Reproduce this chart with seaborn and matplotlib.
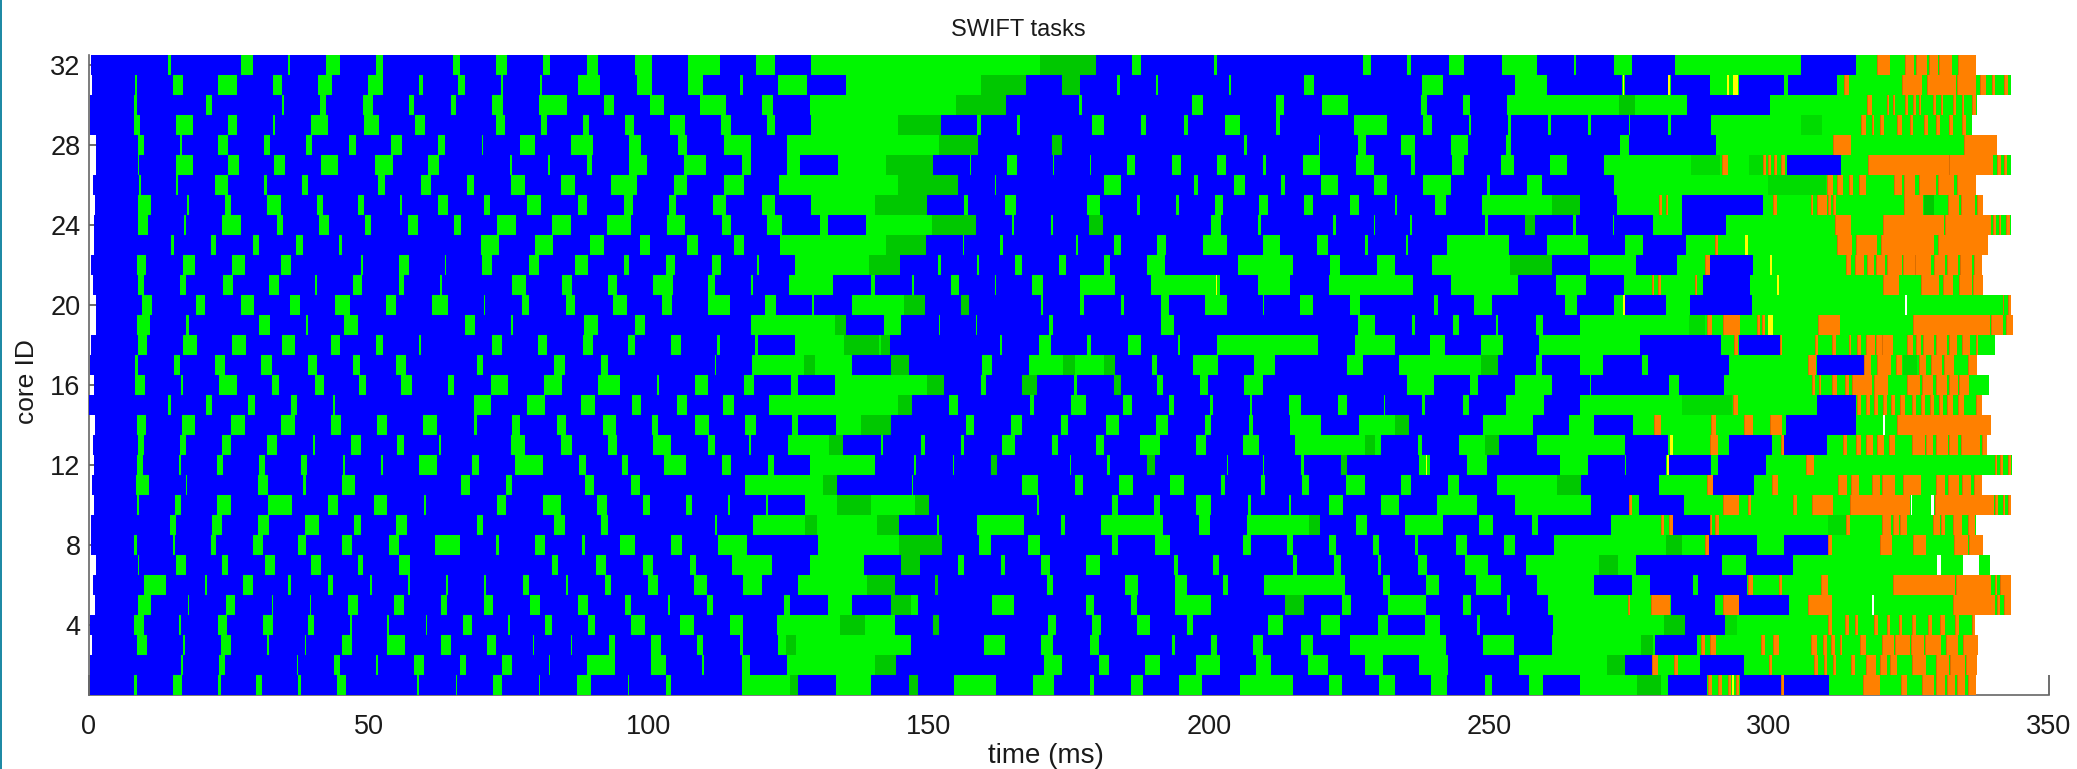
"""
plot.py
SWIFT tasks per core (Gantt-style timeline) redrawn as a seaborn heatmap of task states.
Span values are (start_ms, end_ms), read off the picture by eye.
"""

import matplotlib
matplotlib.use("Agg")
import matplotlib.pyplot as plt
import numpy as np
import seaborn as sns
from matplotlib.colors import ListedColormap
from matplotlib.patches import Rectangle

x_ticks = [0, 50, 100, 150, 200, 250, 300, 350]
y_ticks = [4, 8, 12, 16, 20, 24, 28, 32]
n_cores = 32
t_max = 350

# first blue task of every core, core 1 first
core_starts = [0.1, 0.1, 0.6, 0.2, 1.1, 0.7, 1.3, 0.4, 0.4, 0.9,
               0.5, 0.9, 0.7, 1.1, 0.0, 0.9, 0.2, 0.4, 1.3, 1.3,
               0.7, 0.4, 0.9, 0.9, 1.1, 0.7, 1.3, 1.3, 0.1, 0.1, 0.5, 0.4]

# green = everything that is not the blue background, up to the end of the core
core_01_green = [(8.1, 8.5), (15.0, 16.6), (23.1, 23.5), (29.9, 30.9), (37.4, 37.8), (44.2, 45.9), (58.6, 58.9), (65.5, 65.8), (72.1, 73.8), (80.4, 80.6), (87.2, 89.7), (96.2, 96.5), (103.0, 104.0), (116.6, 126.6), (133.4, 139.7), (146.4, 148.0), (154.5, 162.0), (168.5, 172.3), (178.8, 179.5), (186.1, 188.2), (194.7, 198.8), (205.5, 215.0), (221.4, 223.8), (230.4, 233.2), (239.7, 242.5), (249.2, 250.5), (257.2, 259.6), (266.2, 281.9), (289.0, 294.8), (302.2, 302.6), (310.8, 337.0)]
core_02_green = [(16.5, 16.8), (23.2, 24.3), (37.1, 37.3), (43.7, 44.8), (51.3, 51.6), (58.0, 59.9), (66.3, 67.3), (73.7, 75.6), (82.1, 82.4), (88.9, 94.0), (100.4, 103.1), (109.5, 109.9), (116.6, 118.1), (124.6, 144.1), (170.5, 173.7), (180.3, 182.1), (188.6, 191.2), (197.7, 201.9), (208.4, 211.1), (217.7, 221.3), (227.8, 231.0), (237.5, 242.6), (255.4, 274.3), (279.1, 287.7), (295.6, 337.2)]
core_03_green = [(8.6, 10.3), (16.8, 17.2), (23.6, 25.3), (31.8, 32.1), (38.5, 38.8), (45.2, 46.9), (53.3, 56.5), (62.9, 64.7), (71.1, 72.7), (79.2, 79.5), (86.0, 86.3), (92.9, 93.9), (100.4, 102.1), (108.6, 109.7), (116.2, 116.7), (123.1, 146.7), (159.9, 163.6), (170.0, 172.2), (178.7, 180.4), (193.4, 193.9), (200.4, 201.4), (207.8, 209.7), (216.4, 218.5), (225.2, 242.4), (249.0, 254.5), (261.3, 279.6), (287.1, 337.4)]
core_04_green = [(8.1, 9.8), (16.1, 16.5), (23.0, 24.6), (31.1, 32.8), (39.1, 40.2), (46.6, 46.9), (53.3, 53.6), (60.1, 60.4), (66.8, 68.4), (74.8, 75.1), (81.5, 82.7), (89.1, 90.3), (96.7, 99.3), (105.6, 108.1), (114.5, 116.7), (122.9, 143.9), (150.7, 151.8), (171.3, 172.6), (179.1, 180.7), (187.1, 189.4), (196.0, 197.2), (210.5, 213.3), (220.0, 223.4), (230.1, 232.0), (238.6, 241.2), (247.9, 248.4), (261.5, 285.0), (292.1, 336.8)]
core_05_green = [(8.8, 11.0), (17.6, 17.9), (24.4, 26.1), (32.6, 32.9), (39.4, 39.7), (46.3, 48.0), (54.5, 56.3), (62.9, 63.9), (70.5, 72.2), (78.7, 80.6), (87.3, 89.1), (95.8, 96.7), (103.4, 103.7), (110.4, 111.4), (124.1, 125.2), (131.9, 136.3), (143.2, 148.0), (161.2, 165.2), (178.1, 179.5), (186.0, 187.1), (194.0, 200.3), (213.5, 217.0), (223.7, 225.4), (231.9, 238.7), (245.3, 246.8), (253.3, 253.8), (260.5, 282.5), (290.4, 294.7), (303.5, 343.3)]
core_06_green = [(9.8, 13.8), (20.7, 21.1), (27.5, 29.2), (35.6, 36.0), (42.6, 43.6), (50.1, 50.5), (57.0, 57.4), (63.8, 64.1), (70.5, 70.9), (77.5, 78.6), (85.1, 85.5), (92.1, 93.3), (99.8, 101.6), (108.1, 110.3), (116.7, 120.2), (126.6, 144.0), (151.0, 151.6), (171.1, 172.1), (185.0, 187.4), (194.0, 196.0), (202.5, 203.4), (209.8, 224.3), (231.0, 232.4), (238.8, 241.1), (247.7, 252.1), (258.6, 268.8), (275.6, 278.7), (286.5, 287.4), (296.1, 343.3)]
core_07_green = [(8.7, 9.0), (15.5, 17.3), (23.7, 24.9), (31.4, 33.3), (39.7, 41.4), (48.0, 49.0), (55.4, 57.4), (82.7, 83.8), (90.6, 92.4), (99.0, 100.7), (107.4, 108.4), (114.8, 122.0), (128.7, 138.4), (145.0, 148.4), (155.1, 156.3), (162.9, 163.6), (170.0, 171.6), (178.1, 180.6), (193.7, 194.4), (200.7, 201.7), (215.0, 215.7), (222.4, 223.6), (230.2, 230.7), (237.3, 238.9), (245.7, 249.9), (256.6, 276.2), (291.6, 295.9), (304.3, 339.4)]
core_08_green = [(8.0, 8.5), (15.0, 15.3), (21.7, 22.7), (29.2, 31.0), (37.4, 38.8), (45.2, 47.0), (53.5, 55.3), (61.8, 66.3), (72.7, 73.2), (79.6, 81.5), (88.1, 88.5), (94.9, 97.5), (104.0, 105.9), (112.4, 117.5), (130.2, 152.3), (158.9, 161.1), (167.6, 169.9), (182.7, 183.7), (190.3, 193.1), (206.1, 207.5), (213.9, 215.0), (221.4, 222.6), (229.2, 230.4), (236.8, 237.4), (244.1, 246.1), (252.7, 254.6), (261.6, 289.3), (297.8, 302.6), (310.6, 338.3)]
core_09_green = [(14.5, 15.5), (22.0, 23.7), (30.2, 32.1), (38.5, 41.1), (47.4, 48.5), (54.9, 56.7), (69.3, 70.4), (83.1, 85.0), (91.4, 92.7), (111.8, 112.1), (118.5, 144.7), (151.4, 151.8), (158.5, 167.0), (173.6, 174.3), (180.8, 191.7), (198.2, 200.1), (206.7, 219.9), (226.3, 228.3), (235.0, 241.8), (248.3, 250.7), (257.6, 258.8), (271.7, 282.8), (289.4, 336.9)]
core_10_green = [(8.6, 8.9), (15.3, 16.4), (22.8, 25.4), (31.9, 36.2), (42.7, 44.4), (50.9, 53.3), (59.8, 60.1), (72.8, 74.5), (81.0, 84.3), (90.8, 92.5), (99.0, 100.1), (106.6, 107.7), (114.1, 114.5), (120.9, 121.2), (127.8, 150.0), (169.3, 169.6), (182.6, 183.7), (190.1, 191.2), (197.6, 200.4), (207.0, 207.5), (214.2, 214.7), (221.4, 224.0), (230.7, 233.9), (240.8, 247.8), (254.6, 268.2), (275.0, 276.7), (284.8, 343.3)]
core_11_green = [(8.4, 10.8), (17.3, 17.5), (30.1, 32.0), (38.3, 38.7), (45.1, 47.5), (66.4, 68.1), (74.5, 75.6), (88.5, 90.2), (96.8, 98.4), (117.1, 133.6), (146.9, 147.2), (166.6, 169.4), (176.0, 177.5), (183.9, 186.5), (193.1, 195.5), (202.2, 202.9), (209.3, 210.0), (216.6, 217.8), (224.5, 227.9), (234.3, 236.0), (242.7, 244.7), (251.4, 266.5), (280.3, 290.0), (297.4, 338.1)]
core_12_green = [(8.6, 9.7), (16.0, 16.4), (22.9, 24.0), (30.4, 31.5), (37.9, 38.9), (45.3, 45.7), (52.1, 52.5), (58.9, 62.1), (68.4, 69.6), (76.0, 81.0), (87.5, 88.7), (95.1, 96.3), (102.7, 106.6), (113.0, 114.7), (121.2, 122.3), (128.8, 140.3), (147.3, 147.7), (154.2, 154.4), (161.0, 162.1), (175.2, 175.4), (181.8, 182.4), (188.9, 190.3), (203.3, 203.4), (209.7, 209.9), (216.5, 217.0), (223.5, 224.7), (237.5, 239.5), (246.0, 249.6), (262.7, 267.6), (274.2, 274.5), (281.6, 282.2), (289.7, 290.9), (299.5, 343.4)]
core_13_green = [(8.7, 9.8), (16.2, 17.3), (23.7, 25.4), (31.8, 33.6), (40.0, 40.4), (46.8, 48.5), (55.0, 56.2), (62.5, 62.9), (75.4, 77.9), (84.3, 86.2), (92.6, 94.3), (100.7, 104.0), (110.6, 111.8), (117.9, 118.3), (124.8, 134.7), (141.4, 141.7), (148.5, 149.3), (155.8, 156.3), (163.1, 165.4), (171.9, 173.1), (179.8, 181.3), (187.7, 191.2), (197.7, 199.4), (206.0, 208.9), (215.4, 230.8), (237.3, 238.1), (244.6, 251.8), (258.5, 274.3), (281.9, 292.9), (300.5, 302.6), (310.4, 339.0)]
core_14_green = [(8.5, 10.2), (16.6, 19.0), (25.4, 27.9), (34.3, 36.7), (43.2, 45.0), (51.5, 53.2), (59.7, 62.1), (68.7, 69.2), (75.6, 77.0), (83.5, 85.2), (91.7, 94.1), (100.6, 101.6), (108.3, 110.8), (117.2, 119.1), (125.5, 126.6), (133.4, 143.2), (156.6, 158.1), (164.7, 166.6), (173.5, 174.9), (181.6, 183.9), (190.5, 192.6), (199.2, 200.4), (207.1, 207.8), (214.5, 220.0), (226.7, 235.7), (249.0, 257.9), (264.3, 268.8), (275.8, 303.1), (315.6, 339.6)]
core_15_green = [(14.1, 14.6), (20.9, 21.9), (28.4, 29.6), (36.1, 37.2), (43.6, 44.0), (68.7, 71.8), (78.3, 81.4), (87.8, 90.3), (96.9, 98.5), (105.0, 106.8), (113.3, 115.2), (121.5, 146.9), (153.6, 155.1), (168.1, 168.8), (175.4, 178.1), (184.6, 186.2), (192.9, 193.8), (200.2, 200.8), (207.4, 207.6), (214.2, 216.4), (223.1, 224.7), (231.2, 231.5), (238.0, 238.5), (245.3, 246.4), (253.1, 259.8), (266.3, 308.6), (315.6, 338.0)]
core_16_green = [(8.3, 10.0), (16.4, 16.8), (23.2, 26.4), (32.7, 33.9), (40.3, 41.9), (48.3, 49.4), (55.7, 57.7), (64.1, 65.2), (71.7, 74.8), (81.3, 84.5), (90.9, 94.9), (101.4, 101.8), (108.2, 110.6), (117.0, 118.8), (125.4, 126.6), (133.3, 152.7), (159.3, 160.1), (166.6, 169.3), (175.9, 176.5), (183.0, 184.2), (190.8, 191.8), (198.4, 199.9), (206.3, 209.7), (235.3, 240.2), (246.6, 248.1), (254.7, 261.2), (268.0, 268.3), (282.1, 283.9), (291.9, 339.2)]
core_17_green = [(8.2, 8.7), (15.1, 16.2), (22.5, 24.3), (30.7, 32.6), (39.1, 40.8), (47.2, 48.4), (54.8, 56.6), (69.3, 70.4), (83.1, 85.0), (91.4, 92.7), (111.7, 112.0), (118.4, 136.2), (143.2, 146.4), (159.4, 161.2), (167.8, 183.2), (189.8, 190.7), (197.1, 201.6), (208.1, 211.8), (224.6, 227.5), (233.9, 251.6), (258.4, 259.5), (266.2, 270.4), (277.3, 278.4), (292.8, 308.6), (316.9, 337.2)]
core_18_green = [(8.7, 10.3), (16.7, 19.2), (25.6, 28.0), (34.4, 36.8), (43.2, 44.9), (51.3, 52.5), (58.9, 59.2), (72.0, 73.7), (80.1, 81.8), (88.2, 90.0), (96.3, 97.5), (104.0, 105.8), (112.2, 112.6), (118.9, 119.5), (126.0, 143.0), (162.6, 163.1), (169.6, 171.7), (178.3, 178.9), (185.6, 187.9), (194.4, 194.9), (201.5, 219.4), (226.0, 233.2), (239.5, 242.1), (248.6, 252.5), (258.9, 277.0), (291.5, 294.6), (301.9, 340.3)]
core_19_green = [(8.6, 10.9), (17.4, 17.9), (30.4, 32.4), (38.8, 39.1), (45.6, 48.1), (67.1, 68.9), (75.4, 75.7), (88.4, 90.9), (97.5, 99.2), (118.3, 135.1), (141.9, 145.0), (151.7, 151.9), (158.4, 158.6), (171.4, 172.1), (191.4, 193.7), (226.6, 229.7), (236.2, 236.8), (243.5, 244.7), (251.3, 251.6), (258.4, 259.6), (266.2, 343.5)]
core_20_green = [(9.4, 11.3), (19.1, 20.8), (27.2, 29.5), (35.9, 37.6), (44.0, 46.6), (53.0, 54.8), (61.2, 64.1), (70.5, 70.8), (77.3, 78.6), (85.2, 86.8), (93.6, 96.0), (102.4, 104.1), (110.6, 114.4), (120.8, 122.6), (129.1, 129.5), (136.2, 149.2), (155.7, 157.1), (170.0, 170.3), (177.0, 177.6), (184.2, 184.8), (191.4, 192.9), (199.3, 203.3), (209.6, 209.8), (216.3, 218.6), (225.2, 227.0), (240.1, 240.9), (247.4, 250.5), (263.6, 265.7), (272.4, 274.1), (281.6, 285.9), (297.0, 343.2)]
core_21_green = [(8.7, 9.8), (16.2, 17.3), (23.9, 25.7), (32.1, 33.9), (40.3, 40.7), (47.2, 48.8), (55.3, 56.3), (62.7, 63.1), (75.6, 78.0), (84.4, 86.2), (92.6, 94.3), (100.8, 104.2), (110.6, 111.8), (118.2, 118.5), (125.0, 132.9), (139.6, 140.3), (147.0, 147.4), (153.9, 155.3), (161.7, 161.9), (168.4, 170.4), (176.9, 183.3), (189.7, 202.0), (208.7, 214.5), (221.4, 236.5), (243.3, 255.1), (261.9, 267.4), (274.1, 288.3), (296.6, 338.3)]
core_22_green = [(8.6, 10.2), (16.7, 19.0), (25.5, 27.8), (34.3, 36.0), (48.6, 48.9), (55.4, 57.1), (63.5, 63.8), (70.2, 72.0), (78.6, 80.3), (86.8, 89.1), (95.6, 96.5), (103.0, 104.6), (111.2, 112.8), (119.3, 119.6), (126.0, 144.9), (151.6, 152.2), (158.6, 158.9), (165.4, 166.6), (173.2, 174.5), (181.2, 182.4), (188.9, 192.2), (205.1, 215.0), (221.6, 223.4), (230.0, 233.2), (239.9, 261.3), (268.0, 276.3), (283.6, 289.4), (297.1, 338.1)]
core_23_green = [(14.7, 15.2), (21.7, 22.7), (29.2, 30.4), (37.0, 38.2), (44.6, 45.1), (70.0, 73.3), (79.7, 82.9), (89.4, 92.0), (98.4, 100.2), (106.7, 108.7), (115.2, 117.0), (123.4, 149.4), (156.0, 156.3), (162.7, 163.3), (176.3, 176.6), (183.1, 184.2), (190.8, 192.4), (199.0, 203.2), (209.6, 212.6), (219.3, 221.3), (227.9, 228.4), (235.1, 235.5), (242.5, 253.5), (260.4, 267.6), (274.3, 277.5), (285.1, 339.1)]
core_24_green = [(8.8, 10.6), (16.9, 17.3), (23.8, 27.1), (33.6, 34.7), (41.1, 42.8), (49.3, 50.3), (56.9, 58.7), (65.1, 66.4), (72.9, 76.3), (82.7, 86.0), (92.5, 96.7), (103.3, 106.5), (113.0, 114.7), (121.1, 123.8), (130.6, 131.9), (138.7, 158.4), (164.9, 165.2), (171.7, 172.1), (178.6, 181.0), (200.4, 202.1), (208.7, 209.2), (222.1, 222.7), (229.4, 229.6), (235.9, 236.2), (249.3, 249.9), (256.5, 258.3), (265.0, 265.6), (272.2, 272.4), (279.2, 284.5), (292.4, 343.2)]
core_25_green = [(8.8, 11.1), (17.5, 17.9), (24.3, 25.3), (31.8, 34.2), (40.7, 41.7), (48.1, 49.1), (55.6, 55.9), (62.3, 64.1), (70.5, 71.6), (78.2, 80.7), (87.3, 89.0), (95.5, 97.1), (103.6, 104.8), (111.4, 113.8), (120.2, 122.5), (129.0, 149.6), (156.3, 156.9), (163.5, 165.5), (178.2, 180.5), (187.1, 187.7), (194.1, 194.7), (201.1, 202.5), (209.0, 210.5), (217.0, 218.5), (225.2, 226.7), (233.2, 233.6), (240.3, 242.3), (248.8, 266.2), (272.9, 284.5), (299.0, 338.3)]
core_26_green = [(8.9, 9.2), (15.6, 15.9), (22.5, 24.8), (31.2, 31.7), (38.1, 39.1), (51.6, 52.9), (59.3, 61.0), (67.5, 68.8), (75.3, 77.8), (84.3, 86.8), (93.2, 97.9), (104.4, 106.8), (113.4, 116.9), (123.3, 155.1), (161.7, 162.0), (181.3, 184.2), (197.3, 198.0), (204.4, 206.5), (212.9, 213.6), (220.0, 223.1), (229.5, 231.8), (238.2, 243.2), (249.7, 250.2), (256.8, 259.5), (272.4, 336.9)]
core_27_green = [(8.8, 9.0), (15.5, 18.6), (24.9, 26.8), (33.1, 35.0), (41.4, 44.5), (51.0, 54.2), (60.6, 62.5), (75.2, 75.6), (82.0, 82.4), (88.9, 89.9), (96.4, 99.7), (106.2, 110.2), (116.6, 118.2), (124.7, 126.9), (133.7, 150.7), (157.3, 157.5), (163.9, 165.7), (172.1, 172.3), (178.7, 179.0), (185.4, 186.8), (193.4, 195.0), (201.5, 203.0), (209.6, 210.1), (216.7, 219.8), (226.3, 229.5), (236.0, 236.8), (243.4, 245.5), (252.1, 254.5), (260.9, 264.0), (270.5, 303.3), (312.9, 343.2)]
core_28_green = [(8.8, 9.8), (16.3, 16.6), (23.1, 24.8), (31.2, 32.4), (38.8, 39.9), (46.4, 47.6), (54.0, 55.9), (62.3, 63.6), (70.1, 70.4), (77.0, 79.6), (86.1, 90.0), (96.5, 98.6), (105.1, 106.8), (113.4, 118.2), (124.6, 158.8), (172.0, 173.7), (206.2, 206.7), (219.6, 219.9), (226.6, 228.0), (234.2, 236.7), (243.3, 246.3), (253.0, 253.9), (273.4, 275.0), (290.6, 340.7)]
core_29_green = [(8.0, 9.1), (15.5, 18.5), (24.8, 26.4), (32.8, 33.2), (39.7, 42.7), (49.1, 51.7), (58.2, 60.0), (72.6, 74.3), (80.7, 81.8), (88.2, 89.3), (95.8, 97.4), (103.8, 106.4), (112.8, 114.7), (121.1, 122.5), (129.0, 152.2), (158.6, 159.2), (165.7, 166.3), (179.1, 181.3), (187.9, 188.8), (195.5, 196.2), (202.8, 205.5), (212.0, 212.6), (225.9, 231.8), (238.3, 239.9), (246.4, 246.7), (253.4, 254.0), (260.6, 261.1), (267.6, 268.3), (275.0, 275.2), (281.9, 282.5), (289.7, 336.2)]
core_30_green = [(8.0, 8.5), (20.9, 21.9), (34.5, 34.9), (41.3, 42.4), (48.9, 50.7), (57.1, 58.1), (64.6, 65.5), (72.0, 73.9), (80.4, 85.4), (91.9, 93.8), (100.2, 102.7), (109.1, 113.8), (120.2, 122.1), (128.7, 163.8), (176.8, 177.4), (196.9, 198.9), (211.9, 213.4), (220.2, 224.9), (237.8, 238.9), (245.4, 246.6), (253.3, 285.3), (300.1, 337.2)]
core_31_green = [(8.2, 8.6), (15.0, 16.7), (23.1, 26.4), (32.8, 34.4), (40.9, 43.4), (49.8, 52.5), (58.9, 59.6), (65.9, 67.2), (73.5, 74.0), (80.5, 80.9), (87.3, 91.3), (97.8, 100.5), (107.0, 109.7), (116.3, 116.7), (123.1, 128.3), (135.1, 167.3), (173.7, 176.9), (183.5, 184.1), (190.6, 190.9), (203.6, 203.9), (217.0, 218.8), (238.1, 241.8), (254.7, 260.3), (273.7, 274.3), (282.0, 282.5), (289.4, 294.6), (302.6, 303.4), (312.1, 343.2)]
core_32_green = [(14.1, 14.6), (27.2, 29.2), (35.5, 35.9), (42.3, 44.9), (51.2, 52.5), (65.0, 66.2), (72.6, 74.6), (81.1, 82.4), (89.0, 90.9), (97.5, 100.6), (107.0, 112.6), (119.1, 122.5), (129.0, 179.8), (186.3, 187.9), (200.9, 201.4), (227.5, 229.0), (235.4, 236.0), (242.9, 245.6), (252.4, 258.6), (265.2, 265.6), (272.3, 275.6), (283.2, 305.8), (315.6, 337.0)]

core_01_orange = [(289.1, 289.9), (290.9, 291.6), (292.7, 293.3), (294.1, 294.6), (302.2, 302.6), (316.7, 319.9), (323.5, 324.6), (327.3, 329.5), (329.9, 331.5), (331.7, 333.3), (333.6, 335.0), (335.5, 337.0)]
core_02_orange = [(279.1, 280.1), (283.0, 283.8), (300.0, 300.5), (308.0, 308.7), (309.8, 310.4), (311.4, 311.9), (314.6, 315.4), (317.4, 319.1), (319.9, 321.0), (321.6, 322.8), (325.5, 328.1), (329.8, 332.2), (332.3, 335.0), (335.2, 337.2)]
core_03_orange = [(287.9, 288.6), (289.4, 290.5), (298.5, 299.3), (300.7, 301.8), (307.5, 308.5), (309.7, 310.4), (311.0, 311.7), (312.7, 313.0), (316.2, 317.4), (320.1, 322.3), (322.5, 325.1), (325.3, 327.7), (327.8, 330.8), (331.6, 333.8), (334.6, 337.4)]
core_04_orange = [(310.6, 311.3), (313.6, 314.2), (315.4, 315.9), (318.8, 319.5), (321.0, 321.6), (323.2, 323.8), (325.5, 326.2), (328.4, 329.1), (330.6, 331.4), (333.3, 334.0), (336.2, 336.8)]
core_05_orange = [(274.9, 275.2), (279.0, 282.3), (291.8, 294.7), (306.9, 311.3), (332.8, 340.3), (340.8, 341.3), (342.0, 343.3)]
core_06_orange = [(296.3, 297.2), (301.8, 302.4), (309.2, 310.6), (322.1, 333.3), (333.4, 339.6), (340.3, 340.7), (341.2, 343.3)]
core_07_orange = []
core_08_orange = [(288.6, 289.2), (310.6, 311.2), (319.9, 322.0), (325.7, 328.1), (333.0, 335.5), (335.7, 338.3)]
core_09_orange = [(280.8, 281.3), (282.2, 282.8), (289.4, 289.9), (290.4, 291.0), (313.8, 314.4), (320.2, 321.7), (322.1, 323.2), (323.4, 324.7), (329.2, 330.5), (330.8, 331.4), (332.9, 334.5), (335.5, 336.7)]
core_10_orange = [(275.0, 275.6), (291.8, 294.7), (296.3, 296.7), (304.3, 305.0), (307.7, 311.5), (314.5, 325.2), (329.7, 340.1), (340.3, 340.9), (341.8, 342.1), (342.6, 343.3)]
core_11_orange = [(289.0, 290.0), (300.5, 301.6), (312.4, 313.9), (314.7, 316.0), (318.4, 319.9), (320.2, 322.5), (324.0, 327.1), (329.9, 331.4), (332.0, 334.0), (334.4, 336.0), (336.6, 338.1)]
core_12_orange = [(306.6, 308.0), (340.3, 340.7), (341.2, 341.7), (342.6, 343.2)]
core_13_orange = [(289.4, 290.9), (302.2, 302.6), (313.2, 314.0), (315.6, 316.4), (317.3, 318.5), (319.2, 320.6), (321.4, 322.5), (325.5, 327.8), (328.1, 329.3), (329.8, 331.9), (332.2, 333.8), (334.2, 337.7), (338.0, 339.0)]
core_14_orange = [(279.5, 280.8), (289.7, 290.6), (295.6, 297.2), (300.2, 302.4), (322.9, 339.6)]
core_15_orange = [(293.6, 294.5), (315.8, 316.5), (317.3, 318.0), (318.8, 319.5), (320.4, 321.1), (321.8, 322.5), (323.4, 324.3), (325.5, 326.2), (327.1, 327.8), (328.8, 329.5), (330.3, 331.0), (331.8, 332.8), (333.7, 334.8), (337.0, 338.0)]
core_16_orange = [(307.6, 308.3), (308.9, 309.2), (311.3, 312.1), (313.6, 314.3), (314.9, 318.4), (318.8, 321.2), (324.7, 327.0), (327.3, 329.3), (329.9, 331.8), (332.2, 333.7), (334.0, 335.7)]
core_17_orange = [(306.9, 308.4), (316.9, 318.3), (319.2, 321.7), (322.7, 323.7), (326.8, 328.1), (329.0, 330.9), (331.3, 333.1), (335.5, 337.2)]
core_18_orange = [(293.7, 294.4), (302.0, 302.4), (308.3, 308.7), (311.3, 311.9), (314.3, 314.7), (315.8, 316.5), (317.4, 318.9), (319.1, 320.1), (320.2, 322.1), (324.6, 325.7), (326.2, 327.1), (327.5, 329.5), (329.8, 331.8), (332.2, 333.6), (334.4, 335.9), (337.0, 337.4)]
core_19_orange = [(289.0, 289.9), (291.8, 294.8), (297.9, 298.4), (298.8, 299.3), (308.8, 312.7), (325.8, 339.4), (339.7, 341.7), (342.4, 343.5)]
core_20_orange = [(341.7, 342.0), (342.6, 343.2)]
core_21_orange = [(279.1, 279.5), (280.1, 280.8), (286.8, 287.1), (320.4, 323.2), (327.2, 330.3), (331.0, 332.8), (334.0, 336.2), (336.5, 338.2)]
core_22_orange = [(288.5, 289.4), (313.7, 314.7), (315.4, 316.9), (317.5, 318.8), (319.1, 320.8), (321.0, 323.7), (324.0, 326.0), (326.1, 329.0), (329.5, 331.4), (331.7, 333.8), (334.1, 336.2), (336.6, 338.1)]
core_23_orange = [(290.3, 290.9), (312.1, 314.9), (315.6, 319.3), (320.0, 329.5), (330.1, 339.1)]
core_24_orange = [(311.7, 314.7), (320.4, 331.3), (331.4, 339.6), (340.0, 340.6), (341.1, 341.5), (342.4, 343.0)]
core_25_orange = [(280.3, 280.9), (281.6, 281.9), (300.8, 301.4), (307.5, 307.8), (308.5, 310.4), (310.6, 311.0), (311.4, 312.0), (324.1, 327.5), (332.0, 334.0), (334.2, 336.8), (337.1, 338.3)]
core_26_orange = [(310.3, 311.5), (312.1, 313.3), (314.2, 315.0), (316.0, 317.4), (322.3, 323.8), (324.1, 326.0), (326.8, 329.9), (330.2, 333.0), (333.5, 336.9)]
core_27_orange = [(291.6, 292.7), (299.0, 299.4), (299.8, 300.4), (300.9, 301.4), (302.2, 302.8), (317.6, 332.1), (332.2, 340.0), (340.8, 341.4), (342.0, 342.5)]
core_28_orange = [(311.5, 314.7), (334.9, 340.7)]
core_29_orange = [(316.5, 317.3), (318.4, 318.8), (319.9, 320.6), (322.9, 323.7), (325.1, 325.8), (327.7, 328.4), (329.9, 330.6), (332.2, 332.9), (334.4, 335.1)]
core_30_orange = [(317.5, 318.4), (321.0, 321.4), (322.1, 322.5), (324.3, 324.8), (325.7, 326.2), (326.8, 327.1), (329.2, 329.8), (330.7, 331.1), (332.9, 333.4), (334.5, 334.9), (336.2, 337.0)]
core_31_orange = [(313.4, 314.2), (323.7, 327.4), (328.2, 333.4), (333.6, 337.0), (337.7, 338.7), (339.8, 340.4), (342.0, 342.6)]
core_32_orange = [(319.3, 321.6), (324.3, 325.9), (326.2, 328.3), (328.6, 330.2), (330.4, 332.7), (333.8, 337.0)]

# darker green stretches: core, start, end
dark_spans = [(32, 169.8, 179.8), (31, 159.2, 167.3), (31, 173.7, 176.9), (30, 154.9, 163.8), (30, 273.2, 276.0),
              (29, 144.5, 152.2), (28, 151.7, 158.8), (28, 172.0, 173.7), (27, 142.3, 150.7),
              (26, 144.5, 155.1), (25, 140.4, 149.6),
              (25, 261.3, 266.2), (25, 327.7, 329.5), (24, 150.6, 158.4), (24, 178.6, 181.0), (24, 256.5, 258.3),
              (23, 142.3, 149.4), (22, 139.3, 144.9), (22, 253.7, 261.3), (20, 145.6, 149.2), (20, 155.7, 157.1),
              (19, 133.3, 135.1), (18, 134.8, 141.0), (18, 141.5, 143.0), (17, 127.6, 129.6),
              (17, 143.2, 146.4), (17, 173.9, 176.1), (17, 181.3, 183.2), (17, 248.5, 251.6),
              (16, 149.7, 152.7), (16, 166.6, 169.3), (16, 183.0, 184.2), (15, 144.5, 146.9),
              (14, 137.8, 143.2), (14, 233.2, 235.7), (13, 132.2, 134.7), (13, 227.8, 229.7), (13, 249.2, 251.8),
              (12, 161.0, 162.1), (12, 188.9, 190.3), (12, 223.5, 224.7), (11, 131.1, 133.6), (11, 262.2, 266.5),
              (10, 133.6, 139.7), (10, 147.5, 150.0), (9, 127.8, 130.0), (9, 140.8, 144.7), (9, 217.8, 219.9),
              (8, 144.7, 152.3), (8, 281.6, 284.5), (7, 145.0, 148.4), (7, 269.7, 273.0),
              (6, 138.9, 144.0), (6, 151.0, 151.6), (5, 143.2, 146.7), (5, 213.5, 217.0), (4, 134.1, 138.6),
              (4, 150.7, 151.8), (4, 281.2, 285.0), (3, 124.4, 126.3), (3, 277.1, 279.3),
              (2, 140.4, 144.1), (2, 271.1, 274.3), (1, 125.2, 126.6), (1, 146.4, 148.0), (1, 276.4, 280.8)]

# stretches where dark and bright tasks mix: core, start, end
mid_spans = [(29, 305.7, 309.5), (27, 286.0, 291.2), (27, 296.4, 299.0), (26, 299.8, 310.2), (19, 285.8, 288.6),
             (17, 324.0, 326.5), (15, 284.4, 293.4), (9, 310.6, 313.9), (4, 292.1, 294.2)]

yellow_spans = [(31, 273.9, 274.1), (31, 282.0, 282.4), (31, 292.5, 292.9), (31, 293.6, 294.4), (23, 295.7, 296.3),
                (22, 300.2, 300.5), (21, 201.2, 201.5), (21, 301.4, 301.8), (20, 273.9, 274.2), (19, 299.9, 300.8),
                (13, 282.3, 282.8), (12, 238.7, 239.0), (12, 281.7, 282.1), (1, 293.4, 293.8)]

# holes where a core sits idle
white_spans = [(20, 324.2, 324.6), (14, 320.4, 320.8), (10, 325.3, 325.6), (10, 329.0, 329.4),
               (7, 330.0, 330.7), (7, 334.6, 337.5), (5, 318.4, 318.8)]

green_by_core = [core_01_green, core_02_green, core_03_green, core_04_green, core_05_green, core_06_green,
                 core_07_green, core_08_green, core_09_green, core_10_green, core_11_green, core_12_green,
                 core_13_green, core_14_green, core_15_green, core_16_green, core_17_green, core_18_green,
                 core_19_green, core_20_green, core_21_green, core_22_green, core_23_green, core_24_green,
                 core_25_green, core_26_green, core_27_green, core_28_green, core_29_green, core_30_green,
                 core_31_green, core_32_green]
orange_by_core = [core_01_orange, core_02_orange, core_03_orange, core_04_orange, core_05_orange, core_06_orange,
                  core_07_orange, core_08_orange, core_09_orange, core_10_orange, core_11_orange, core_12_orange,
                  core_13_orange, core_14_orange, core_15_orange, core_16_orange, core_17_orange, core_18_orange,
                  core_19_orange, core_20_orange, core_21_orange, core_22_orange, core_23_orange, core_24_orange,
                  core_25_orange, core_26_orange, core_27_orange, core_28_orange, core_29_orange, core_30_orange,
                  core_31_orange, core_32_orange]

# cell states: 0 idle, 1 blue, 2 green, 3 dark green, 4 orange, 5 orange edge, 6 yellow, 7 mid green
state_colors = ["#ffffff", "#0000ff", "#00f600", "#00c800", "#ff8000", "#d96d00", "#ffff00", "#00dc00"]

FIG_W, FIG_H = 2077, 769
AX_LEFT, AX_RIGHT, AX_TOP, AX_BOTTOM = 89, 2049, 55, 695
N_BINS = AX_RIGHT - AX_LEFT  # one cell per pixel
BINS_PER_MS = N_BINS / t_max


def paint(cells, core, start, end, state):
    row = n_cores - core
    i0 = int(round(start * BINS_PER_MS))
    i1 = max(i0 + 1, int(round(end * BINS_PER_MS)))
    cells[row, i0:i1] = state


def main():
    sns.set_theme(style="white")
    plt.rcParams["font.family"] = ["Liberation Sans", "DejaVu Sans"]

    cells = np.zeros((n_cores, N_BINS), dtype=int)
    for idx in range(n_cores):
        core = idx + 1
        green = green_by_core[idx]
        paint(cells, core, core_starts[idx], green[-1][1], 1)
        for start, end in green:
            paint(cells, core, start, end, 2)
    for core, start, end in dark_spans:
        paint(cells, core, start, end, 3)
    for core, start, end in mid_spans:
        paint(cells, core, start, end, 7)
    for idx in range(n_cores):
        for start, end in orange_by_core[idx]:
            paint(cells, idx + 1, start, end, 4)
            paint(cells, idx + 1, start, start, 5)
    for core, start, end in yellow_spans:
        paint(cells, core, start, end, 6)
    for core, start, end in white_spans:
        paint(cells, core, start, end, 0)

    fig = plt.figure(figsize=(FIG_W / 100, FIG_H / 100), dpi=100)
    ax = fig.add_axes([AX_LEFT / FIG_W, 1 - AX_BOTTOM / FIG_H,
                       (AX_RIGHT - AX_LEFT) / FIG_W, (AX_BOTTOM - AX_TOP) / FIG_H])

    sns.heatmap(cells, mask=cells == 0, cmap=ListedColormap(state_colors), vmin=-0.5, vmax=7.5,
                cbar=False, xticklabels=False, yticklabels=False, ax=ax)

    ax.set_xticks([t * BINS_PER_MS for t in x_ticks])
    ax.set_xticklabels([str(t) for t in x_ticks])
    ax.set_yticks([n_cores - c + 0.5 for c in y_ticks])
    ax.set_yticklabels([str(c) for c in y_ticks], rotation=0)

    # ticks and axis lines stay behind the cells, only the idle gaps show them
    ax.set_axisbelow(True)
    ax.tick_params(axis="both", direction="in", length=14.4, width=1.2, color="#555555",
                   labelsize=19.5, labelcolor="#1a1a1a", left=True, bottom=True)
    ax.tick_params(axis="x", pad=13.5)
    ax.tick_params(axis="y", pad=6)
    for name in ["left", "bottom"]:
        ax.spines[name].set_visible(True)
        ax.spines[name].set_color("#666666")
        ax.spines[name].set_linewidth(1.2)
        ax.spines[name].set_zorder(0.6)
    ax.spines["top"].set_visible(False)
    ax.spines["right"].set_visible(False)

    ax.set_xlabel("time (ms)", fontsize=20, color="#1a1a1a", labelpad=2, x=0.488)
    ax.set_ylabel("core ID", fontsize=19, color="#1a1a1a", labelpad=8, y=0.49)
    ax.set_title("SWIFT tasks", fontsize=17, color="#1a1a1a", pad=14, x=0.474)

    # thin teal strip along the left edge of the picture
    fig.add_artist(Rectangle((0, 0), 1.5 / FIG_W, 1, transform=fig.transFigure, color="#1f8aa5", lw=0))

    fig.savefig("out.png", dpi=100)
    plt.close(fig)


if __name__ == "__main__":
    main()
